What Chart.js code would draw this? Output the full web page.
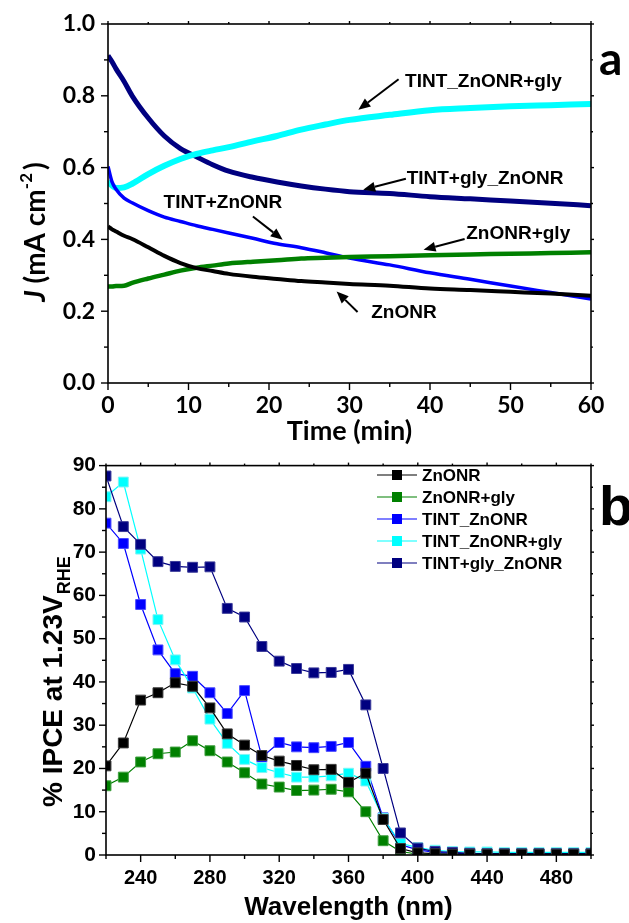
<!DOCTYPE html>
<html><head><meta charset="utf-8">
<script src="https://cdn.jsdelivr.net/npm/chart.js@4/dist/chart.umd.min.js"></script>
<style>
html,body{margin:0;padding:0;background:#fff;}
#wrap{position:relative;width:629px;height:923px;background:#fff;}
.box{position:absolute;left:0;}
</style></head><body>
<div id="wrap">
<div class="box" style="top:0;width:629px;height:450px"><canvas id="c1" width="629" height="450"></canvas></div>
<div class="box" style="top:450px;width:629px;height:473px"><canvas id="c2" width="629" height="473"></canvas></div>
</div>
<script>
// ---------- Panel (a): J vs time ----------
const timeMin = [0,0.5,1,2,3,5,7,9,11,13,15,18,21,24,27,30,35,40,45,50,55,60];
const jZnONR        = [0.436,0.428,0.422,0.410,0.401,0.378,0.354,0.334,0.320,0.312,0.304,0.296,0.290,0.284,0.280,0.276,0.271,0.263,0.259,0.254,0.249,0.243];
const jZnONRgly     = [0.269,0.269,0.270,0.271,0.279,0.291,0.302,0.313,0.321,0.327,0.333,0.338,0.342,0.347,0.349,0.351,0.353,0.356,0.358,0.360,0.362,0.364];
const jTINTplusZnONR= [0.603,0.560,0.540,0.515,0.502,0.480,0.462,0.450,0.438,0.428,0.418,0.403,0.388,0.377,0.363,0.348,0.329,0.307,0.289,0.270,0.252,0.234];
const jTINT_ZnONRgly= [0.562,0.550,0.543,0.545,0.555,0.582,0.605,0.624,0.638,0.648,0.657,0.673,0.688,0.706,0.720,0.733,0.747,0.760,0.766,0.771,0.774,0.777];
const jTINTgly_ZnONR= [0.912,0.895,0.875,0.840,0.800,0.738,0.688,0.653,0.630,0.608,0.590,0.573,0.560,0.549,0.540,0.533,0.528,0.519,0.513,0.507,0.501,0.494];
const timeTicks = [0,10,20,30,40,50,60];
const jTicks = [0.0,0.2,0.4,0.6,0.8,1.0];

// ---------- Panel (b): IPCE vs wavelength ----------
const wavelengths = [220,230,240,250,260,270,280,290,300,310,320,330,340,350,360,370,380,390,400,410,420,430,440,450,460,470,480,490,500];
const ipceZnONR       = [20.6,25.9,35.8,37.5,39.8,39.0,34.0,28.0,25.4,23.0,21.7,20.7,19.7,19.8,16.8,18.9,8.2,1.5,0.5,0.3,0.2,0.2,0.2,0.2,0.2,0.2,0.2,0.2,0.2];
const ipceZnONRgly    = [16.0,18.0,21.5,23.4,23.8,26.4,24.1,21.5,19.0,16.4,15.7,14.9,15.0,15.2,14.6,10.0,3.3,0.8,0.2,0.1,0.1,0.1,0.1,0.1,0.1,0.1,0.1,0.1,0.1];
const ipceTINT_ZnONR  = [76.7,72.0,57.9,47.4,41.9,41.3,37.5,32.7,38.0,22.6,26.0,25.0,24.8,25.1,26.0,20.5,8.6,2.4,1.2,0.6,0.4,0.3,0.3,0.3,0.3,0.3,0.3,0.3,0.3];
const ipceTINT_ZnONRgly=[82.8,86.2,70.7,54.4,45.1,38.6,31.4,25.8,22.1,20.2,19.0,18.0,18.0,18.3,18.9,17.1,8.5,2.7,1.7,1.1,0.8,0.7,0.7,0.6,0.6,0.6,0.6,0.6,0.6];
const ipceTINTgly_ZnONR=[87.6,75.9,71.8,67.8,66.7,66.5,66.6,57.0,55.0,48.2,44.8,43.1,42.1,42.2,42.9,34.7,20.0,5.1,1.6,0.8,0.6,0.4,0.3,0.3,0.3,0.3,0.3,0.3,0.3];
const wlTicks = [240,280,320,360,400,440,480];
const ipceTicks = [0,10,20,30,40,50,60,70,80,90];
const ipceLabels = ['ZnONR','ZnONR+gly','TINT_ZnONR','TINT_ZnONR+gly','TINT+gly_ZnONR'];

// ---------- annotations for panel (a) ----------
const annoText = ['TINT_ZnONR+gly','TINT+gly_ZnONR','TINT+ZnONR','ZnONR+gly','ZnONR'];
const annoAt   = [[36.9,0.840],[37.1,0.568],[6.9,0.501],[44.5,0.417],[32.7,0.197]];
const annoFrom = [[36.1,0.846],[37.0,0.569],[18.0,0.464],[44.3,0.401],[31.0,0.198]];
const annoTo   = [[31.1,0.761],[31.7,0.538],[21.7,0.399],[39.2,0.371],[28.4,0.255]];

const COL = {black:'#000000', green:'#008000', blue:'#0000ff', cyan:'#00ffff', navy:'#000080'};
const pts = (xs, ys) => xs.map((x,i)=>({x, y: ys[i]}));
const near = (v, list) => list.some(t => Math.abs(t - v) < 1e-6);

function frameTicksPlugin(xMajor, yMajor, letter, letterFont){
  return {
    id:'frameTicks',
    afterDraw(chart){
      const {ctx, chartArea:a, scales} = chart;
      ctx.save();
      ctx.strokeStyle = '#000'; ctx.lineWidth = 1.6;
      ctx.strokeRect(a.left, a.top, a.right - a.left, a.bottom - a.top);
      ctx.lineWidth = 1.4;
      scales.x.ticks.forEach(t => {
        const px = scales.x.getPixelForValue(t.value);
        const len = near(t.value, xMajor) ? 7 : 4;
        ctx.beginPath(); ctx.moveTo(px, a.bottom); ctx.lineTo(px, a.bottom + len); ctx.stroke();
        ctx.beginPath(); ctx.moveTo(px, a.top); ctx.lineTo(px, a.top - (near(t.value, xMajor)?3:2)); ctx.stroke();
      });
      scales.y.ticks.forEach(t => {
        const py = scales.y.getPixelForValue(t.value);
        const len = near(t.value, yMajor) ? 7 : 4;
        ctx.beginPath(); ctx.moveTo(a.left, py); ctx.lineTo(a.left - len, py); ctx.stroke();
        ctx.beginPath(); ctx.moveTo(a.right, py); ctx.lineTo(a.right + (near(t.value, yMajor)?3:2), py); ctx.stroke();
      });
      ctx.fillStyle = '#000';
      ctx.font = letterFont;
      ctx.textAlign = 'left'; ctx.textBaseline = 'alphabetic';
      ctx.fillText(letter, 599, 75);
      ctx.restore();
    }
  };
}

// ---------------- Chart (a) ----------------
const yTitleA = {
  id:'yTitleA',
  afterDraw(chart){
    const ctx = chart.ctx;
    ctx.save();
    ctx.translate(45, 232);
    ctx.rotate(-Math.PI/2);
    ctx.fillStyle = '#000';
    ctx.textBaseline = 'alphabetic';
    const big = 'bold 28px Lato', it = 'italic bold 28px Lato', sm = 'bold 17px Lato';
    const parts = [[it,'J',0],[big,' (mA cm',0],[sm,'-2',-13],[big,')',0]];
    let w = 0; parts.forEach(p => { ctx.font = p[0]; w += ctx.measureText(p[1]).width + (p[1]==='-2'?3:0); });
    let x = -w/2;
    parts.forEach(p => { ctx.font = p[0]; ctx.textAlign='left'; ctx.fillText(p[1], x, p[2]); x += ctx.measureText(p[1]).width + (p[1]==='-2'?3:0); });
    ctx.restore();
  }
};
const annoPlugin = {
  id:'anno',
  afterDatasetsDraw(chart){
    const {ctx, scales:{x, y}} = chart;
    ctx.save();
    ctx.fillStyle = '#000'; ctx.strokeStyle = '#000'; ctx.lineWidth = 2;
    ctx.font = 'bold 19px "Liberation Sans", Arial, sans-serif';
    ctx.textAlign = 'left'; ctx.textBaseline = 'middle';
    annoText.forEach((t,i) => {
      ctx.fillText(t, x.getPixelForValue(annoAt[i][0]), y.getPixelForValue(annoAt[i][1]));
      const x1 = x.getPixelForValue(annoFrom[i][0]), y1 = y.getPixelForValue(annoFrom[i][1]);
      const x2 = x.getPixelForValue(annoTo[i][0]),   y2 = y.getPixelForValue(annoTo[i][1]);
      const ang = Math.atan2(y2 - y1, x2 - x1), L = 12, W = 5;
      const bx = x2 - L*Math.cos(ang), by = y2 - L*Math.sin(ang);
      ctx.beginPath(); ctx.moveTo(x1, y1); ctx.lineTo(bx, by); ctx.stroke();
      ctx.beginPath();
      ctx.moveTo(x2, y2);
      ctx.lineTo(bx + W*Math.sin(ang), by - W*Math.cos(ang));
      ctx.lineTo(bx - W*Math.sin(ang), by + W*Math.cos(ang));
      ctx.closePath(); ctx.fill();
    });
    ctx.restore();
  }
};

const lineDs = (label, ys, color, w) => ({
  label, data: pts(timeMin, ys), borderColor: color, backgroundColor: color,
  borderWidth: w, pointRadius: 0, fill: false, cubicInterpolationMode: 'monotone'
});

new Chart(document.getElementById('c1'), {
  type:'line',
  data:{ datasets:[
    lineDs('ZnONR', jZnONR, COL.black, 4),
    lineDs('ZnONR+gly', jZnONRgly, COL.green, 4.5),
    lineDs('TINT+ZnONR', jTINTplusZnONR, COL.blue, 3.5),
    lineDs('TINT_ZnONR+gly', jTINT_ZnONRgly, COL.cyan, 6),
    lineDs('TINT+gly_ZnONR', jTINTgly_ZnONR, COL.navy, 5)
  ]},
  options:{
    responsive:false, animation:false, devicePixelRatio:1,
    layout:{ padding:{ left:0, right:38, top:24, bottom:0 } },
    plugins:{ legend:{display:false}, tooltip:{enabled:false} },
    scales:{
      x:{ type:'linear', min:0, max:60,
        afterFit(s){ s.height = 67; },
        grid:{ display:false, drawTicks:true, tickLength:7 },
        border:{ display:false },
        ticks:{ stepSize:5, autoSkip:false, maxRotation:0, padding:2, color:'#000',
          font:{ family:'Lato', weight:'bold', size:23 },
          callback:(v)=> near(v, timeTicks) ? String(v) : '' },
        title:{ display:true, text:'Time (min)', color:'#000', padding:{top:0,bottom:3},
          font:{ family:'Lato', weight:'bold', size:27 } }
      },
      y:{ type:'linear', min:0, max:1.0,
        afterFit(s){ s.width = 108; },
        grid:{ display:false, drawTicks:true, tickLength:7 },
        border:{ display:false },
        ticks:{ stepSize:0.1, autoSkip:false, padding:6, color:'#000',
          font:{ family:'Lato', weight:'bold', size:23 },
          callback:(v)=> near(v, jTicks) ? v.toFixed(1) : '' }
      }
    }
  },
  plugins:[annoPlugin, yTitleA, frameTicksPlugin(timeTicks, jTicks, 'a', 'bold 46px Lato')]
});

// ---------------- Chart (b) ----------------
const ipceColors = [COL.black, COL.green, COL.blue, COL.cyan, COL.navy];
const ipceBorders = ['#3a3a3a','#3f9f3f','#4a4aff','#7ff5f5','#3a3a9a'];
const ipceSeries = [ipceZnONR, ipceZnONRgly, ipceTINT_ZnONR, ipceTINT_ZnONRgly, ipceTINTgly_ZnONR];
const drawOrder = [1, 5, 4, 3, 2];

const yTitleB = {
  id:'yTitleB',
  afterDraw(chart){
    const ctx = chart.ctx;
    ctx.save();
    ctx.translate(62, 357);
    ctx.rotate(-Math.PI/2);
    ctx.fillStyle = '#000';
    ctx.textAlign = 'left'; ctx.textBaseline = 'alphabetic';
    ctx.font = 'bold 28px "Liberation Sans", Arial, sans-serif';
    const main = '% IPCE at 1.23V';
    ctx.fillText(main, 0, 0);
    const w = ctx.measureText(main).width;
    ctx.font = 'bold 18px "Liberation Sans", Arial, sans-serif';
    ctx.fillText('RHE', w + 1, 8);
    ctx.restore();
  }
};
const legendB = {
  id:'legendB',
  afterDraw(chart){
    const ctx = chart.ctx;
    ctx.save();
    ipceLabels.forEach((lab, i) => {
      const yy = 25 + i*22;
      ctx.strokeStyle = ipceColors[i]; ctx.lineWidth = 1.2;
      ctx.beginPath(); ctx.moveTo(377, yy); ctx.lineTo(417, yy); ctx.stroke();
      ctx.fillStyle = ipceColors[i];
      ctx.fillRect(392, yy - 5, 10, 10);
      ctx.fillStyle = '#000';
      ctx.font = 'bold 17px "Liberation Sans", Arial, sans-serif';
      ctx.textAlign = 'left'; ctx.textBaseline = 'middle';
      ctx.fillText(lab, 422, yy + 1);
    });
    ctx.restore();
  }
};

new Chart(document.getElementById('c2'), {
  type:'line',
  data:{ datasets: ipceSeries.map((s, i) => ({
    label: ipceLabels[i], data: pts(wavelengths, s),
    borderColor: ipceColors[i], backgroundColor: ipceColors[i],
    pointBackgroundColor: ipceColors[i], pointBorderColor: ipceBorders[i], pointBorderWidth: 1,
    borderWidth: 1.2, pointRadius: 7, pointStyle: 'rect', tension: 0, fill:false, order: drawOrder[i]
  })) },
  options:{
    responsive:false, animation:false, devicePixelRatio:1,
    layout:{ padding:{ left:0, right:38, top:11, bottom:0 } },
    plugins:{ legend:{display:false}, tooltip:{enabled:false} },
    scales:{
      x:{ type:'linear', min:220, max:500,
        afterFit(s){ s.height = 68; },
        grid:{ display:false, drawTicks:true, tickLength:7 },
        border:{ display:false },
        ticks:{ stepSize:20, autoSkip:false, maxRotation:0, padding:4, color:'#000',
          font:{ family:'"Liberation Sans", Arial, sans-serif', weight:'bold', size:20 },
          callback:(v)=> near(v, wlTicks) ? String(v) : '' },
        title:{ display:true, text:'Wavelength (nm)', color:'#000', padding:{top:0,bottom:0},
          font:{ family:'"Liberation Sans", Arial, sans-serif', weight:'bold', size:26 } }
      },
      y:{ type:'linear', min:0, max:90,
        afterFit(s){ s.width = 106; },
        grid:{ display:false, drawTicks:true, tickLength:7 },
        border:{ display:false },
        ticks:{ stepSize:5, autoSkip:false, padding:3, color:'#000',
          font:{ family:'"Liberation Sans", Arial, sans-serif', weight:'bold', size:21 },
          callback:(v)=> near(v, ipceTicks) ? String(v) : '' }
      }
    }
  },
  plugins:[legendB, yTitleB, frameTicksPlugin(wlTicks, ipceTicks, 'b', 'bold 56px "Liberation Sans", Arial, sans-serif')]
});
</script>
</body></html>
